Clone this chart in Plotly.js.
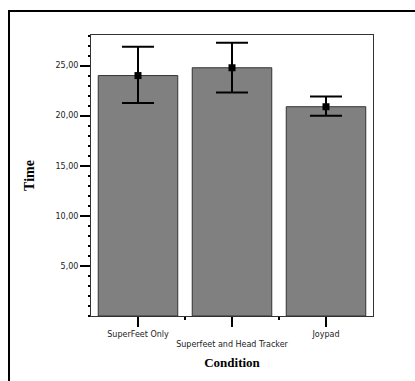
<!DOCTYPE html>
<html>
<head>
<meta charset="utf-8">
<script src="https://cdn.plot.ly/plotly-3.0.1.min.js"></script>
<style>html,body{margin:0;padding:0;background:#fff;}#chart{width:415px;height:381px;}</style>
</head>
<body>
<div id="chart"></div>
<script>
var categories = ["SuperFeet Only", "Superfeet and Head Tracker", "Joypad"];
var tickLabels = ["SuperFeet Only", "<br>Superfeet and Head Tracker", "Joypad"];
var meanTime = [24.00, 24.78, 20.89];
var ciUpper = [26.87, 27.27, 21.92];
var ciLower = [21.25, 22.31, 19.99];
var yTicks = [5, 10, 15, 20, 25];

var errPlus = meanTime.map(function(m, i){ return ciUpper[i] - m; });
var errMinus = meanTime.map(function(m, i){ return m - ciLower[i]; });

var L = 91, R = 373, T = 35, B = 316, W = 415, H = 381;
function px(x){ return (x - L) / (R - L); }
function py(y){ return (B - y) / (B - T); }

var data = [
  {
    type: "bar",
    x: categories,
    y: meanTime,
    marker: {color: "#808080", line: {color: "#333333", width: 1}},
    error_y: {type: "data", symmetric: false, array: errPlus, arrayminus: errMinus,
              color: "#000000", thickness: 2, width: 16},
    hoverinfo: "skip"
  },
  {
    type: "scatter",
    mode: "markers",
    x: categories,
    y: meanTime,
    marker: {symbol: "square", size: 7, color: "#000000"},
    hoverinfo: "skip"
  }
];

var layout = {
  width: W, height: H,
  margin: {l: L, r: W - R, t: T, b: H - B, pad: 0},
  paper_bgcolor: "#ffffff",
  plot_bgcolor: "#ffffff",
  showlegend: false,
  bargap: 0.154,
  separators: ",.",
  font: {family: "DejaVu Sans, sans-serif", size: 8, color: "#222222"},
  xaxis: {
    type: "category",
    range: [-0.5, 2.5],
    tickmode: "array",
    tickvals: categories,
    ticktext: tickLabels,
    ticks: "outside", ticklen: 10, tickwidth: 2, tickcolor: "#000000",
    minor: {tickmode: "array", tickvals: [0.5, 1.5], ticks: "outside", ticklen: 3, tickwidth: 2, tickcolor: "#000000"},
    showline: true, linecolor: "#333333", linewidth: 1, mirror: true,
    showgrid: false, zeroline: false,
    tickfont: {family: "DejaVu Sans, sans-serif", size: 8, color: "#222222"},
    title: {text: "<b>Condition</b>", font: {family: "Liberation Serif, serif", size: 13, color: "#000000"}, standoff: 9}
  },
  yaxis: {
    range: [0, 28.05],
    tickmode: "array",
    tickvals: yTicks,
    tickformat: ".2f",
    ticks: "outside", ticklen: 10, tickwidth: 2, tickcolor: "#000000",
    minor: {tick0: 0, dtick: 1, ticks: "outside", ticklen: 2, tickwidth: 2, tickcolor: "#000000"},
    showline: true, linecolor: "#333333", linewidth: 1, mirror: true,
    showgrid: false, zeroline: false,
    tickfont: {family: "DejaVu Sans, sans-serif", size: 8, color: "#222222"},
    title: {text: "<b>Time</b>", font: {family: "Liberation Serif, serif", size: 14, color: "#000000"}, standoff: 17}
  },
  shapes: [
    {type: "line", xref: "paper", yref: "paper", x0: px(9), x1: px(9), y0: py(H + 5), y1: py(11),
     line: {color: "#000000", width: 2}},
    {type: "line", xref: "paper", yref: "paper", x0: px(8), x1: px(W + 5), y0: py(11), y1: py(11),
     line: {color: "#000000", width: 2}}
  ]
};

Plotly.newPlot("chart", data, layout, {staticPlot: true, displayModeBar: false});
</script>
</body>
</html>
